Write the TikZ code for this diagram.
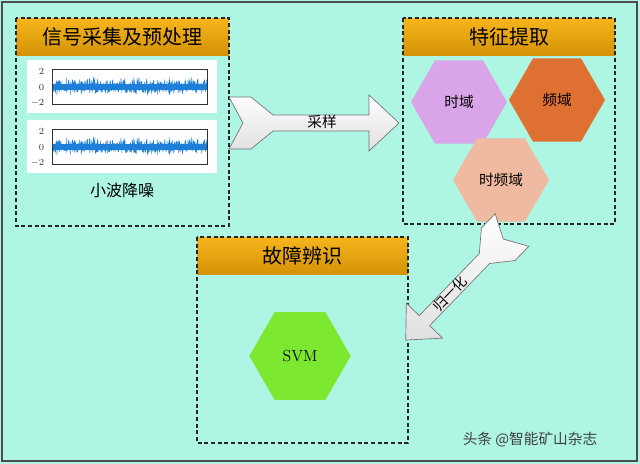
\documentclass[tikz,border=0pt]{standalone}
\usepackage{fontspec}
\newfontfamily\cjk{Noto Sans CJK SC}
\usetikzlibrary{shapes.geometric}
\definecolor{bgc}{HTML}{AEF5E3}
\definecolor{hdtop}{HTML}{F7B61C}
\definecolor{hdbot}{HTML}{D49206}
\definecolor{sigc}{HTML}{1E7FD8}
\tikzset{
  panel/.style={draw=black!85, densely dashed, line width=0.9pt},
  header/.style={top color=hdtop, bottom color=hdbot, draw=none},
  htitle/.style={font=\cjk\fontsize{15}{15}\selectfont, text=black},
  hexa/.style={regular polygon, regular polygon sides=6, shape border rotate=0, minimum size=#1, inner sep=0pt, draw=none, font=\cjk\fontsize{11}{11}\selectfont},
  bigarrow/.style={top color=white, bottom color=black!12, draw=black!55, line width=0.5pt},
  tick/.style={font=\fontsize{7}{7}\selectfont, text=black!80, anchor=east}
}
\begin{document}
\begin{tikzpicture}[x=0.75pt,y=-0.75pt]
\useasboundingbox (0,0) rectangle (640,464);
\fill[bgc] (0,0) rectangle (640,464);
\draw[black!70, line width=0.8pt] (2,2) rectangle (637,461);
% box 1
\fill[header] (16,18) rectangle (229,55);
\node[htitle] (h1) at (122.5,37) {信号采集及预处理};
\draw[panel] (16,18) rectangle (229,226);
\foreach \yy/\nm in {60/p1,120/p2}{
  \fill[white] (27,\yy) rectangle (217,\yy+53);
  \begin{scope}
    \clip (52,\yy+9) rectangle (207,\yy+44);
    \pgfmathsetseed{7}
    \draw[sigc, line width=0.4pt] plot[domain=52:207, samples=500] (\x,{\yy+26.5+ (rand*7)*(1+0.7*rand*rand)});
    \fill[sigc] (52,\yy+23.5) rectangle (207,\yy+29.5);
  \end{scope}
  \draw[black!80, line width=0.6pt] (52,\yy+9) rectangle (207,\yy+44);
  \node[tick] at (49,\yy+11) {2};
  \node[tick] at (49,\yy+27) {0};
  \node[tick] at (49,\yy+43) {$-2$};
}
\node[font=\cjk\fontsize{12}{12}\selectfont] (lbl) at (122,190) {小波降噪};
% box 2
\fill[header] (403,18) rectangle (615,55);
\node[htitle] (h2) at (509,37) {特征提取};
\node[hexa=72pt, fill={rgb,255:red,217;green,165;blue,232}] (t) at (459,102) {时域};
\node[hexa=72pt, fill={rgb,255:red,222;green,112;blue,50}] (f) at (557,100) {频域};
\node[hexa=72pt, fill={rgb,255:red,240;green,186;blue,160}] (tf) at (501,180) {时频域};
\draw[panel] (403,18) rectangle (615,224);
% box 3
\fill[header] (197,237) rectangle (408,274);
\node[htitle] (h3) at (302.5,256) {故障辨识};
\node[hexa=76pt, fill={rgb,255:red,124;green,232;blue,48}, font=\fontsize{12}{12}\selectfont] (svm) at (300,356) {SVM};
\draw[panel] (197,237) rectangle (408,443);
% arrow 1
\begin{scope}[shift={(229,123)}]
\draw[bigarrow] (0,-26)--(22,-26)--(44,-8)--(140,-8)--(140,-28)--(170,0)--(140,28)--(140,8)--(44,8)--(22,26)--(0,26)--(14,0)--cycle;
\end{scope}
\node[font=\cjk\fontsize{11}{11}\selectfont] (a1) at (322,122) {采样};
% arrow 2
\begin{scope}[shift={(512,230)}, rotate=226, scale=0.9]
\draw[bigarrow] (0,-26)--(22,-26)--(44,-8)--(140,-8)--(140,-28)--(170,0)--(140,28)--(140,8)--(44,8)--(22,26)--(0,26)--(14,0)--cycle;
\end{scope}
\node[font=\cjk\fontsize{10.5}{10.5}\selectfont, rotate=46, inner sep=0pt] (a2) at (450,294) {归一化};
\node[font=\cjk\fontsize{11}{11}\selectfont, text=black!75] (wm) at (530,440) {头条 @智能矿山杂志};
\end{tikzpicture}
\end{document}
